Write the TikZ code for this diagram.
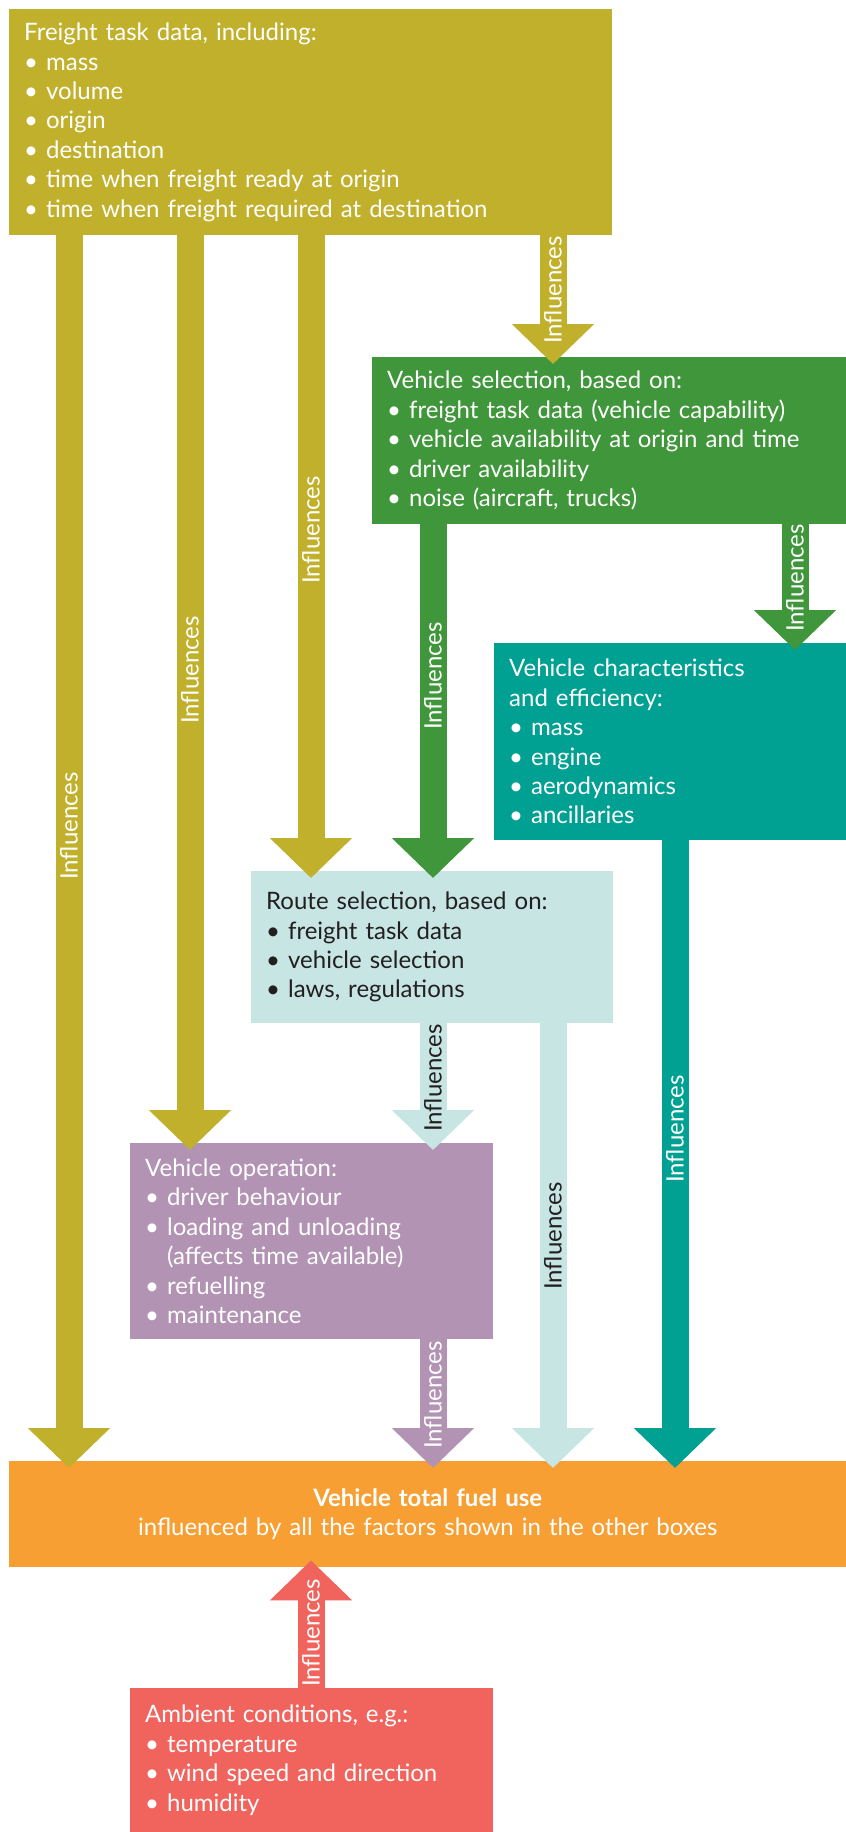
\documentclass[tikz,border=0pt]{standalone}
\usepackage{fontspec}
\setmainfont{Lato}
\usetikzlibrary{arrows.meta}
\definecolor{freightcol}{HTML}{C0B02C}
\definecolor{selectcol}{HTML}{40963A}
\definecolor{charcol}{HTML}{00A092}
\definecolor{routecol}{HTML}{C6E5E3}
\definecolor{opcol}{HTML}{B293B3}
\definecolor{fuelcol}{HTML}{F79F32}
\definecolor{ambientcol}{HTML}{F1645D}
\definecolor{ink}{HTML}{231F20}

\begin{document}
\begin{tikzpicture}[x=1pt, y=-1pt,
    box/.style={anchor=north west, inner xsep=15pt, inner ysep=0pt, align=left,
                font=\fontsize{24}{29.4}\selectfont, text=white},
    flow/.style={line width=27pt, -{Triangle[width=80pt, length=40pt]}, shorten >=-7pt},
    lbl/.style={rotate=90, font=\fontsize{24}{24}\selectfont, text=white, inner sep=0pt}]

  \useasboundingbox[fill=white] (0,0) rectangle (846,1832);

  % Spalten der Pfeile
  \coordinate (lane1) at (69,0);
  \coordinate (lane2) at (190,0);
  \coordinate (lane3) at (311,0);
  \coordinate (lane4) at (433,0);
  \coordinate (lane5) at (553,0);
  \coordinate (lane6) at (675,0);
  \coordinate (lane7) at (795,0);

  % Kaesten
  \node[box, fill=freightcol, minimum width=603pt, minimum height=226pt, text width=573pt]
    (freight) at (9,9) {Freight task data, including:\\
      • mass\\ • volume\\ • origin\\ • destination\\
      • time when freight ready at origin\\
      • time when freight required at destination};
  \node[box, fill=selectcol, minimum width=474pt, minimum height=167pt, text width=444pt]
    (select) at (372,357) {Vehicle selection, based on:\\
      • freight task data (vehicle capability)\\
      • vehicle availability at origin and time\\
      • driver availability\\
      • noise (aircraft, trucks)};
  \node[box, fill=charcol, minimum width=352pt, minimum height=197pt, text width=322pt]
    (char) at (494,643) {Vehicle characteristics\\ and efficiency:\\
      • mass\\ • engine\\ • aerodynamics\\ • ancillaries};
  \node[box, fill=routecol, text=ink, minimum width=362pt, minimum height=152pt, text width=332pt]
    (route) at (251,871) {Route selection, based on:\\
      • freight task data\\ • vehicle selection\\ • laws, regulations};
  \node[box, fill=opcol, minimum width=363pt, minimum height=196pt, text width=333pt]
    (oper) at (130,1143) {Vehicle operation:\\
      • driver behaviour\\ • loading and unloading\\
      \phantom{• }(affects time available)\\
      • refuelling\\ • maintenance};
  \node[box, fill=fuelcol, align=center, minimum width=837pt, minimum height=106pt, text width=807pt]
    (fuel) at (9,1461) {\textbf{Vehicle total fuel use}\\
      influenced by all the factors shown in the other boxes};
  \node[box, fill=ambientcol, minimum width=363pt, minimum height=144pt, text width=333pt]
    (ambient) at (130,1688) {Ambient conditions, e.g.:\\
      • temperature\\ • wind speed and direction\\ • humidity};

  % Pfeile
  \draw[flow, freightcol] (freight.south -| lane1) -- (fuel.north -| lane1);
  \draw[flow, freightcol] (freight.south -| lane2) -- (oper.north -| lane2);
  \draw[flow, freightcol] (freight.south -| lane3) -- (route.north -| lane3);
  \draw[flow, freightcol] (freight.south -| lane5) -- (select.north -| lane5);
  \draw[flow, selectcol] (select.south -| lane4) -- (route.north -| lane4);
  \draw[flow, selectcol] (select.south -| lane7) -- (char.north -| lane7);
  \draw[flow, charcol] (char.south -| lane6) -- (fuel.north -| lane6);
  \draw[flow, routecol] (route.south -| lane4) -- (oper.north -| lane4);
  \draw[flow, routecol] (route.south -| lane5) -- (fuel.north -| lane5);
  \draw[flow, opcol] (oper.south -| lane4) -- (fuel.north -| lane4);
  \draw[flow, ambientcol] (ambient.north -| lane3) -- (fuel.south -| lane3);

  % Beschriftungen
  \node[lbl] (inf1) at (69,826) {Influences};
  \node[lbl] (inf2) at (190,670) {Influences};
  \node[lbl] (inf3) at (311,530) {Influences};
  \node[lbl] (inf4) at (553,290) {Influences};
  \node[lbl] (inf5) at (433,676) {Influences};
  \node[lbl] (inf6) at (795,578) {Influences};
  \node[lbl] (inf7) at (675,1129) {Influences};
  \node[lbl, text=ink] (inf8) at (433,1078) {Influences};
  \node[lbl, text=ink] (inf9) at (553,1236) {Influences};
  \node[lbl] (inf10) at (433,1395) {Influences};
  \node[lbl] (inf11) at (311,1633) {Influences};
\end{tikzpicture}
\end{document}
